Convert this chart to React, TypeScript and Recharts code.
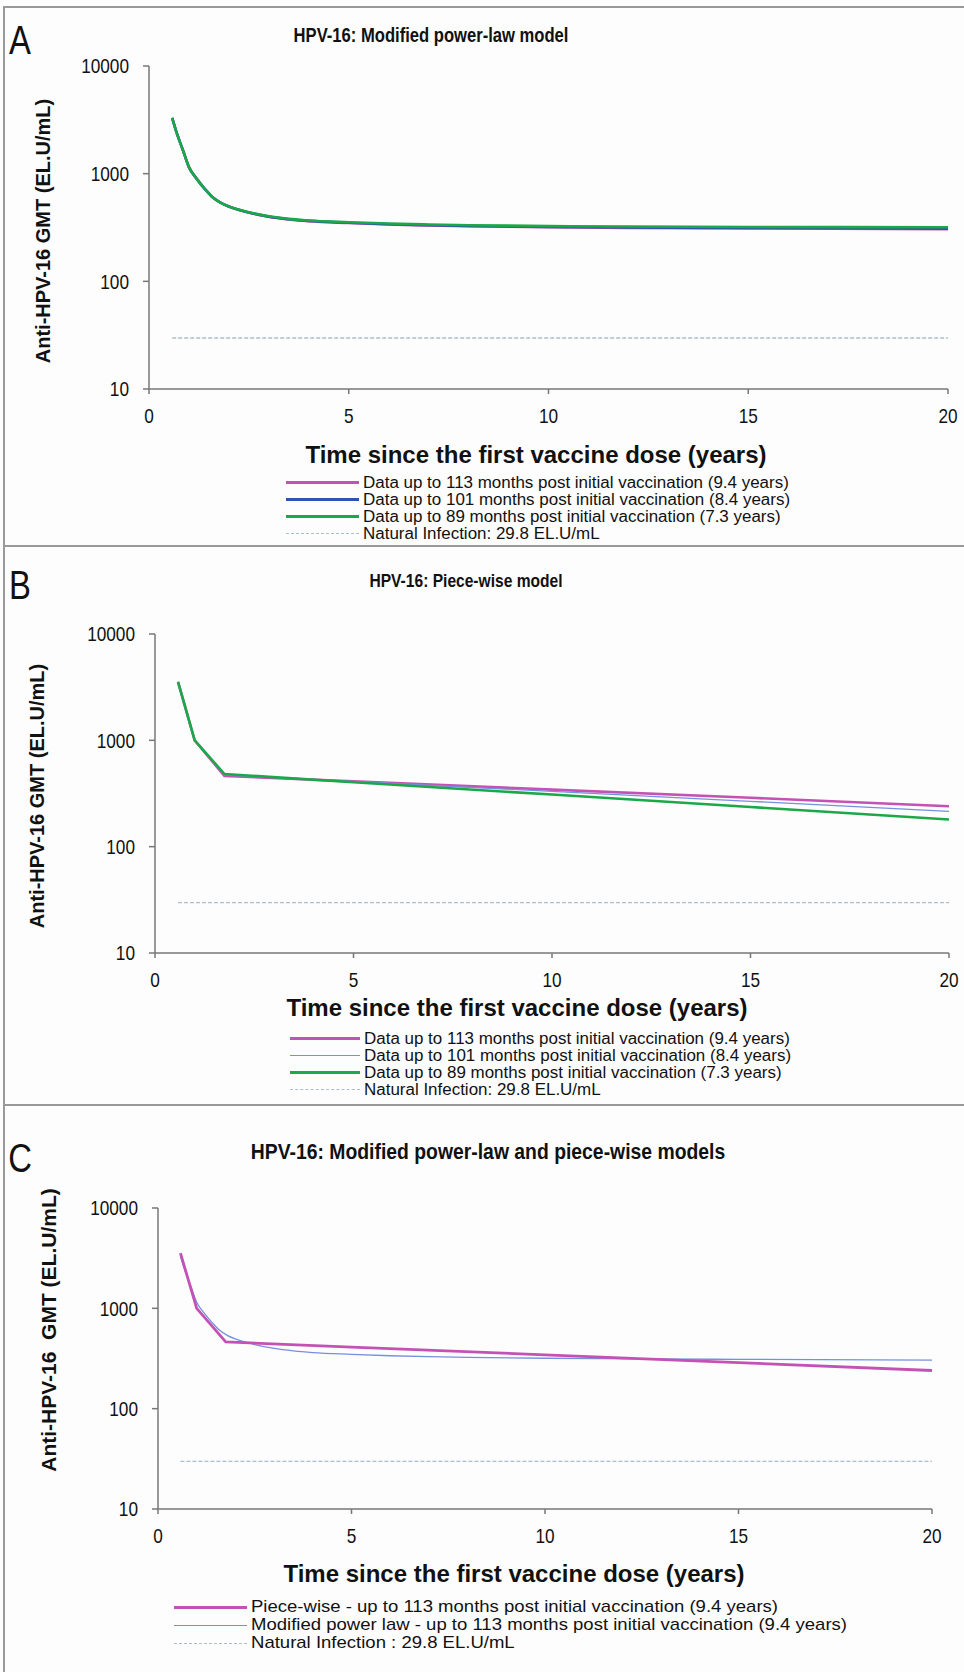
import React from "react";
import { LineChart, Line, XAxis, YAxis } from "recharts";

// Modified power-law model (panel A, also used in C)
const powerYears = [0.58, 0.7, 0.85, 1.0, 1.2, 1.4, 1.6, 1.8, 2.0, 2.5, 3.0, 3.5, 4.0, 5.0, 6.0, 7.0, 8.0, 10.0, 12.0, 15.0, 20.0];
const power113 = [3300, 2350, 1650, 1150, 890, 720, 600, 535, 495, 435, 398, 376, 362, 348, 337, 330, 325, 318, 314, 310, 305];
const power101 = [3300, 2350, 1650, 1150, 890, 720, 600, 535, 495, 436, 399, 377, 364, 350, 339, 332, 327, 320, 316, 313, 309];
const power89 = [3300, 2350, 1650, 1150, 890, 720, 600, 535, 496, 438, 402, 380, 367, 354, 344, 337, 332, 326, 323, 320, 318];

// Piece-wise model (panel B, also used in C)
const pieceYears = [0.58, 1.0, 1.75, 5, 10, 15, 20];
const piece113 = [3550, 1000, 462, 411, 344, 288, 240];
const piece101 = [3550, 1000, 472, 410, 331, 267, 215];
const piece89 = [3550, 1000, 482, 404, 309, 236, 180];

// Natural infection level
const naturalYears = [0.58, 20];
const naturalGmt = [29.8, 29.8];

const xTicks = [0, 5, 10, 15, 20];
const yTicks = [10, 100, 1000, 10000];

const PINK = "#c352b4";
const BLUE_DARK = "#3351b0";
const BLUE_LIGHT = "#7590e0";
const GREEN = "#1ba848";
const DASH = "#a9bfcf";
const AXIS = "#777";

// no narrow font installed: squeeze Liberation Sans horizontally instead
const FONT = "'Liberation Sans', Arial, sans-serif";
const TICK_SX = 0.82;

type Series = { key: string; xs: number[]; ys: number[] };

function merge(series: Series[]) {
  const rows = new Map<number, Record<string, number>>();
  series.forEach((s) => {
    s.xs.forEach((x, i) => {
      const row = rows.get(x) ?? { t: x };
      row[s.key] = s.ys[i];
      rows.set(x, row);
    });
  });
  return Array.from(rows.values()).sort((a, b) => a.t - b.t);
}

const dataA = merge([
  { key: "a", xs: powerYears, ys: power113 },
  { key: "b", xs: powerYears, ys: power101 },
  { key: "c", xs: powerYears, ys: power89 },
  { key: "nat", xs: naturalYears, ys: naturalGmt },
]);
const dataB = merge([
  { key: "a", xs: pieceYears, ys: piece113 },
  { key: "b", xs: pieceYears, ys: piece101 },
  { key: "c", xs: pieceYears, ys: piece89 },
  { key: "nat", xs: naturalYears, ys: naturalGmt },
]);
const dataC = merge([
  { key: "a", xs: pieceYears, ys: piece113 },
  { key: "b", xs: powerYears, ys: power113 },
  { key: "nat", xs: naturalYears, ys: naturalGmt },
]);

const makeTick = (anchor: "end" | "middle", dy: string) => (props: any) => {
  const { x, y, payload } = props;
  return (
    <text
      transform={`translate(${x},${y}) scale(${TICK_SX},1)`}
      textAnchor={anchor}
      dy={dy}
      fontSize={21}
      fill="#111"
      fontFamily={FONT}
    >
      {payload.value}
    </text>
  );
};
const xTick = makeTick("middle", "0.71em");
const yTick = makeTick("end", "0.355em");

type LineSpec = { key: string; color: string; width: number; curve: "monotone" | "linear"; dash?: string };

type PanelProps = {
  data: Record<string, number>[];
  lines: LineSpec[];
  plot: { left: number; right: number; top: number; bottom: number };
};

function Panel({ data, lines, plot }: PanelProps) {
  const yAxisWidth = 70;
  const plotH = plot.bottom - plot.top;
  const height = plotH + 60;
  return (
    <div style={{ position: "absolute", left: 0, top: plot.top - 10 }}>
      <LineChart
        width={964}
        height={height}
        data={data}
        margin={{ top: 10, right: 964 - plot.right, left: plot.left - yAxisWidth, bottom: 20 }}
      >
        <XAxis
          dataKey="t"
          type="number"
          domain={[0, 20]}
          ticks={xTicks}
          height={30}
          tickSize={5}
          tickMargin={14}
          stroke={AXIS}
          strokeWidth={1.5}
          tick={xTick}
        />
        <YAxis
          type="number"
          scale="log"
          domain={[10, 10000]}
          ticks={yTicks}
          allowDataOverflow
          width={yAxisWidth}
          tickSize={6}
          tickMargin={14}
          stroke={AXIS}
          strokeWidth={1.5}
          tick={yTick}
        />
        {lines.map((l) => (
          <Line
            key={l.key}
            dataKey={l.key}
            type={l.curve}
            stroke={l.color}
            strokeWidth={l.width}
            strokeDasharray={l.dash}
            dot={false}
            activeDot={false}
            connectNulls
            isAnimationActive={false}
          />
        ))}
      </LineChart>
    </div>
  );
}

type LegendItem = { label: string; color: string; width: number; dashed?: boolean };

function Legend({ items, left, top, lineLen, rowH, size, sx }: { items: LegendItem[]; left: number; top: number; lineLen: number; rowH: number; size: number; sx: number }) {
  return (
    <div style={{ position: "absolute", left, top, fontFamily: FONT, fontSize: size, lineHeight: `${rowH}px`, color: "#111" }}>
      {items.map((it) => (
        <div key={it.label} style={{ display: "flex", alignItems: "center", whiteSpace: "pre", height: rowH }}>
          <div
            style={{
              width: lineLen,
              marginRight: 4,
              borderTop: `${it.width}px ${it.dashed ? "dashed" : "solid"} ${it.color}`,
            }}
          />
          <span style={{ display: "inline-block", transform: `scaleX(${sx})`, transformOrigin: "left center" }}>{it.label}</span>
        </div>
      ))}
    </div>
  );
}

function Text({ x, y, size, bold, sx = 1, children, rotate }: { x: number; y: number; size: number; bold?: boolean; sx?: number; children: React.ReactNode; rotate?: boolean }) {
  return (
    <div
      style={{
        position: "absolute",
        left: x,
        top: y,
        transform: `translate(-50%, -50%)${rotate ? " rotate(-90deg)" : ""} scaleX(${sx})`,
        fontFamily: FONT,
        fontSize: size,
        fontWeight: bold ? 700 : 400,
        whiteSpace: "pre",
        color: "#111",
        lineHeight: 1,
      }}
    >
      {children}
    </div>
  );
}

const legendAB = (blueColor: string, blueWidth: number): LegendItem[] => [
  { label: "Data up to 113 months post initial vaccination (9.4 years)", color: PINK, width: 3 },
  { label: "Data up to 101 months post initial vaccination (8.4 years)", color: blueColor, width: blueWidth },
  { label: "Data up to 89 months post initial vaccination (7.3 years)", color: GREEN, width: 3 },
  { label: "Natural Infection: 29.8 EL.U/mL", color: DASH, width: 1.5, dashed: true },
];

export default function App() {
  return (
    <div style={{ position: "relative", width: 964, height: 1672, background: "#fdfdfd", overflow: "hidden" }}>
      <style>{`body{margin:0;}`}</style>
      {/* frame and panel separators */}
      <div style={{ position: "absolute", left: 3, top: 6, width: 980, height: 1700, borderLeft: "2px solid #999", borderTop: "2px solid #999" }} />
      <div style={{ position: "absolute", left: 3, top: 545, width: 980, borderTop: "2px solid #999" }} />
      <div style={{ position: "absolute", left: 3, top: 1104, width: 980, borderTop: "2px solid #999" }} />

      {/* Panel A */}
      <Text x={20} y={40} size={40} sx={0.82}>A</Text>
      <Text x={431} y={35} size={20} bold sx={0.83}>HPV-16: Modified power-law model</Text>
      <Text x={43} y={231} size={20} bold rotate>Anti-HPV-16 GMT (EL.U/mL)</Text>
      <Panel
        data={dataA}
        plot={{ left: 149, right: 948, top: 66, bottom: 389 }}
        lines={[
          { key: "nat", color: DASH, width: 1.4, curve: "linear", dash: "4 2" },
          { key: "a", color: PINK, width: 2.6, curve: "monotone" },
          { key: "b", color: BLUE_DARK, width: 2.6, curve: "monotone" },
          { key: "c", color: GREEN, width: 2.6, curve: "monotone" },
        ]}
      />
      <Text x={536} y={455} size={24} bold sx={1}>Time since the first vaccine dose (years)</Text>
      <Legend items={legendAB(BLUE_DARK, 3)} left={286} top={474} lineLen={73} rowH={17} size={16} sx={1.06} />

      {/* Panel B */}
      <Text x={20} y={585} size={40} sx={0.82}>B</Text>
      <Text x={466} y={580} size={19} bold sx={0.82}>HPV-16: Piece-wise model</Text>
      <Text x={37} y={796} size={20} bold rotate>Anti-HPV-16 GMT (EL.U/mL)</Text>
      <Panel
        data={dataB}
        plot={{ left: 155, right: 949, top: 634, bottom: 953 }}
        lines={[
          { key: "nat", color: DASH, width: 1.4, curve: "linear", dash: "4 2" },
          { key: "a", color: PINK, width: 2.6, curve: "linear" },
          { key: "b", color: BLUE_LIGHT, width: 1.3, curve: "linear" },
          { key: "c", color: GREEN, width: 2.6, curve: "linear" },
        ]}
      />
      <Text x={517} y={1008} size={24} bold sx={1}>Time since the first vaccine dose (years)</Text>
      <Legend items={legendAB(BLUE_LIGHT, 1.3)} left={290} top={1030} lineLen={70} rowH={17} size={16} sx={1.06} />

      {/* Panel C */}
      <Text x={20} y={1158} size={40} sx={0.82}>C</Text>
      <Text x={488} y={1152} size={22} bold sx={0.88}>HPV-16: Modified power-law and piece-wise models</Text>
      <Text x={48} y={1330} size={21} bold rotate>{"Anti-HPV-16  GMT (EL.U/mL)"}</Text>
      <Panel
        data={dataC}
        plot={{ left: 158, right: 932, top: 1208, bottom: 1509 }}
        lines={[
          { key: "nat", color: DASH, width: 1.4, curve: "linear", dash: "4 2" },
          { key: "b", color: BLUE_LIGHT, width: 1.3, curve: "monotone" },
          { key: "a", color: PINK, width: 2.8, curve: "linear" },
        ]}
      />
      <Text x={514} y={1574} size={24} bold sx={1}>Time since the first vaccine dose (years)</Text>
      <Legend
        items={[
          { label: "Piece-wise - up to 113 months post initial vaccination (9.4 years)", color: PINK, width: 3 },
          { label: "Modified power law - up to 113 months post initial vaccination (9.4 years)", color: BLUE_LIGHT, width: 1.3 },
          { label: "Natural Infection : 29.8 EL.U/mL", color: DASH, width: 1.5, dashed: true },
        ]}
        left={174}
        top={1598}
        lineLen={73}
        rowH={18}
        size={17}
        sx={1.09}
      />
    </div>
  );
}
